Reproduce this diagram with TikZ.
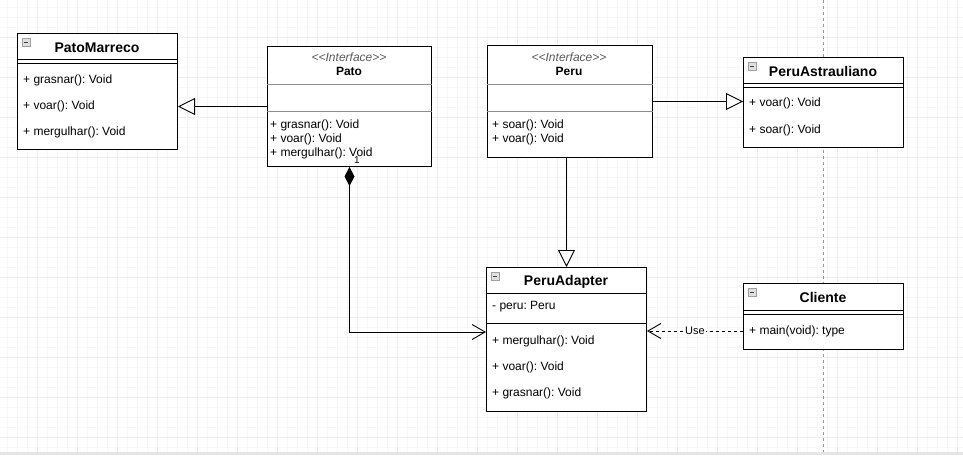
\documentclass[tikz,border=0pt]{standalone}
\usepackage{fontspec}
\setmainfont{Liberation Sans}
\usetikzlibrary{arrows.meta, positioning}
\frenchspacing
\newcommand{\minusicon}[1]{%
    \draw[gray!75, fill=gray!25] ([shift={(5,5)}]#1.north west) rectangle ([shift={(13,13)}]#1.north west);
    \draw[black!75] ([shift={(7,9)}]#1.north west) -- ([shift={(11,9)}]#1.north west);
}
\newcommand{\iface}{\textless{}\textless{}Interface\textgreater{}\textgreater{}}

\begin{document}
\begin{tikzpicture}[
        x=1pt, y=-1pt,
        minorgrid/.style={black!3, line width=0.6pt},
        majorgrid/.style={black!7, line width=0.7pt},
        classbox/.style={draw, line width=1pt, fill=white, anchor=north west, inner sep=0pt},
        classname/.style={font=\bfseries\fontsize{14pt}{16pt}\selectfont, inner sep=0pt},
        ifacename/.style={font=\bfseries\fontsize{12pt}{14pt}\selectfont, inner sep=0pt},
        stereo/.style={font=\itshape\fontsize{12pt}{14pt}\selectfont, text=black!65, inner sep=0pt},
        member/.style={font=\fontsize{12pt}{14pt}\selectfont, anchor=west, inner sep=0pt},
        sep/.style={line width=0.9pt},
        graysep/.style={line width=0.9pt, black!45},
        inherit/.style={-{Triangle[open, length=17pt, width=17pt, fill=white]}, line width=0.9pt},
        compose/.style={{Diamond[length=19pt, width=10pt]}-{Straight Barb[length=13pt, width=15pt]}, line width=0.9pt},
        depend/.style={-{Straight Barb[length=13pt, width=15pt]}, dash pattern=on 3pt off 3pt, line width=0.9pt}
    ]
        \useasboundingbox (0,0) rectangle (963,455);
        \foreach \gx in {7,17,...,957} \draw[minorgrid] (\gx,0) -- (\gx,452);
        \foreach \gy in {7,17,...,447} \draw[minorgrid] (0,\gy) -- (963,\gy);
        \foreach \gx in {37,77,...,957} \draw[majorgrid] (\gx,0) -- (\gx,452);
        \foreach \gy in {37,77,...,447} \draw[majorgrid] (0,\gy) -- (963,\gy);
        \draw[black!40, dash pattern=on 3pt off 3pt, line width=0.8pt] (823,0) -- (823,452);
        \fill[black!10] (0,452) rectangle (963,455);

        \node[classbox, minimum width=160pt, minimum height=116pt] (patomarreco) at (17,33) {};
        \minusicon{patomarreco}
        \node[classname] (patomarreco-name) at (97,48) {PatoMarreco};
        \draw[sep] (patomarreco.west |- 0,59) -- (patomarreco.east |- 0,59);
        \draw[sep] (patomarreco.west |- 0,63) -- (patomarreco.east |- 0,63);
        \node[member] (patomarreco-grasnar) at (23,80) {+ grasnar(): Void};
        \node[member] (patomarreco-voar) at (23,106) {+ voar(): Void};
        \node[member] (patomarreco-mergulhar) at (23,132) {+ mergulhar(): Void};

        \node[classbox, minimum width=164pt, minimum height=120pt] (pato) at (267,46) {};
        \node[stereo] (pato-stereo) at (349,57) {\iface};
        \node[ifacename] (pato-name) at (349,71) {Pato};
        \draw[graysep] (pato.west |- 0,84) -- (pato.east |- 0,84);
        \draw[graysep] (pato.west |- 0,111) -- (pato.east |- 0,111);
        \node[member] (pato-grasnar) at (270,125) {+ grasnar(): Void};
        \node[member] (pato-voar) at (270,139) {+ voar(): Void};
        \node[member] (pato-mergulhar) at (270,153) {+ mergulhar(): Void};

        \node[classbox, minimum width=165pt, minimum height=112pt] (peru) at (487,45) {};
        \node[stereo] (peru-stereo) at (569,57) {\iface};
        \node[ifacename] (peru-name) at (569,71) {Peru};
        \draw[graysep] (peru.west |- 0,84) -- (peru.east |- 0,84);
        \draw[graysep] (peru.west |- 0,111) -- (peru.east |- 0,111);
        \node[member] (peru-soar) at (492,125) {+ soar(): Void};
        \node[member] (peru-voar) at (492,139) {+ voar(): Void};

        \node[classbox, minimum width=160pt, minimum height=90pt] (peruastrauliano) at (743,57) {};
        \minusicon{peruastrauliano}
        \node[classname] (peruastrauliano-name) at (823,71) {PeruAstrauliano};
        \draw[sep] (peruastrauliano.west |- 0,83) -- (peruastrauliano.east |- 0,83);
        \draw[sep] (peruastrauliano.west |- 0,87) -- (peruastrauliano.east |- 0,87);
        \node[member] (peruastrauliano-voar) at (749,103) {+ voar(): Void};
        \node[member] (peruastrauliano-soar) at (749,130) {+ soar(): Void};

        \node[classbox, minimum width=160pt, minimum height=144pt] (peruadapter) at (486,267) {};
        \minusicon{peruadapter}
        \node[classname] (peruadapter-name) at (566,282) {PeruAdapter};
        \draw[sep] (peruadapter.west |- 0,293) -- (peruadapter.east |- 0,293);
        \node[member] (peruadapter-peru) at (492,307) {- peru: Peru};
        \draw[sep] (peruadapter.west |- 0,323) -- (peruadapter.east |- 0,323);
        \node[member] (peruadapter-mergulhar) at (492,341) {+ mergulhar(): Void};
        \node[member] (peruadapter-voar) at (492,367) {+ voar(): Void};
        \node[member] (peruadapter-grasnar) at (492,393) {+ grasnar(): Void};

        \node[classbox, minimum width=160pt, minimum height=66pt] (cliente) at (743,283) {};
        \minusicon{cliente}
        \node[classname] (cliente-name) at (823,297) {Cliente};
        \draw[sep] (cliente.west |- 0,310) -- (cliente.east |- 0,310);
        \draw[sep] (cliente.west |- 0,314) -- (cliente.east |- 0,314);
        \node[member] (cliente-main) at (749,331) {+ main(void): type};

        \draw[inherit] (pato.west) -- (patomarreco.east |- pato.west);
        \draw[inherit] (peru.east) -- (peruastrauliano.west |- peru.east);
        \draw[inherit] (peruadapter.north |- peru.south) -- (peruadapter.north);
        \draw[compose] (pato.south) |- (peruadapter.west |- 0,332);
        \node[font=\fontsize{10pt}{12pt}\selectfont, inner sep=0pt] (pato-mult) at (357,160) {1};
        \draw[depend] (cliente.west |- cliente-main) -- (peruadapter.east |- cliente-main)
            node[midway, fill=white, inner sep=1pt, font=\fontsize{11pt}{13pt}\selectfont] (use-label) {Use};
    \end{tikzpicture}
\end{document}
